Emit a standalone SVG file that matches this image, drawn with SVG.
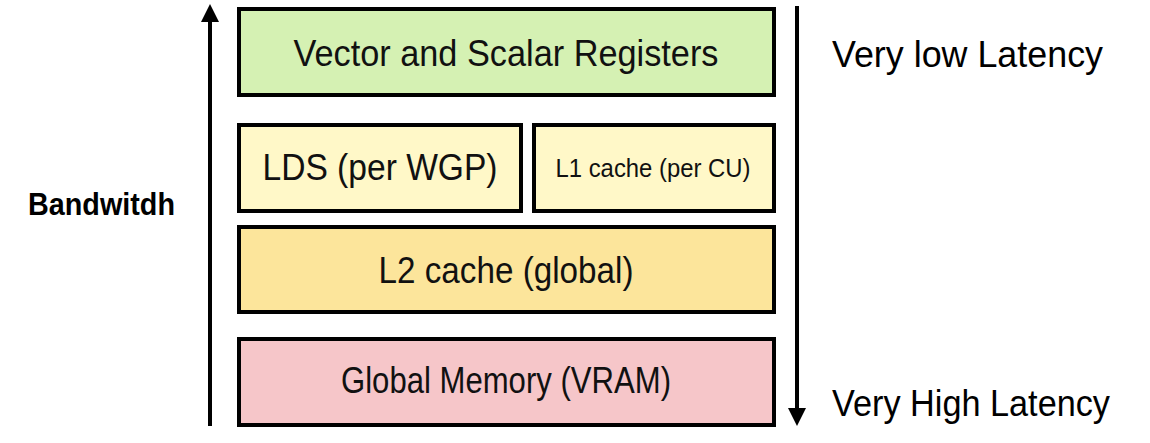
<svg xmlns="http://www.w3.org/2000/svg" width="1150" height="443" viewBox="0 0 1150 443">
<defs>
<style>
.box{stroke:#000;stroke-width:4;}
.t{font-family:"Liberation Sans",Arial,sans-serif;fill:#111;text-anchor:middle;}
.lbl{font-family:"Liberation Sans",Arial,sans-serif;fill:#000;}
</style>
</defs>
<rect width="1150" height="443" fill="#fff"/>
<g id="connectors">
<line x1="210" y1="426" x2="210" y2="20" stroke="#000" stroke-width="4"/>
<path d="M201,22 L210,4 L219,22 Z" fill="#000"/>
<line x1="797" y1="6" x2="797" y2="410" stroke="#000" stroke-width="4"/>
<path d="M788,408 L797,426 L806,408 Z" fill="#000"/>
</g>
<g id="registers">
<rect class="box" x="239" y="9" width="535" height="86" fill="#d5f1b3"/>
<text class="t" x="506" y="66" font-size="36" textLength="425" lengthAdjust="spacingAndGlyphs">Vector and Scalar Registers</text>
</g>
<g id="lds">
<rect class="box" x="239" y="125" width="282" height="86" fill="#fff8c8"/>
<text class="t" x="380" y="180" font-size="36" textLength="235" lengthAdjust="spacingAndGlyphs">LDS (per WGP)</text>
</g>
<g id="l1">
<rect class="box" x="534" y="125" width="240" height="86" fill="#fff8c8"/>
<text class="t" x="653" y="177" font-size="26" textLength="195" lengthAdjust="spacingAndGlyphs">L1 cache (per CU)</text>
</g>
<g id="l2">
<rect class="box" x="239" y="227" width="535" height="85" fill="#fce59b"/>
<text class="t" x="506" y="283" font-size="36" textLength="255" lengthAdjust="spacingAndGlyphs">L2 cache (global)</text>
</g>
<g id="vram">
<rect class="box" x="239" y="339" width="535" height="86" fill="#f6c6c9"/>
<text class="t" x="506" y="393" font-size="36" textLength="330" lengthAdjust="spacingAndGlyphs">Global Memory (VRAM)</text>
</g>
<g id="labels">
<text class="lbl" x="28" y="215" font-size="32" font-weight="bold" textLength="147" lengthAdjust="spacingAndGlyphs">Bandwitdh</text>
<text class="lbl" x="832" y="67" font-size="37" textLength="271" lengthAdjust="spacingAndGlyphs">Very low Latency</text>
<text class="lbl" x="832" y="416" font-size="36" textLength="278" lengthAdjust="spacingAndGlyphs">Very High Latency</text>
</g>
</svg>
